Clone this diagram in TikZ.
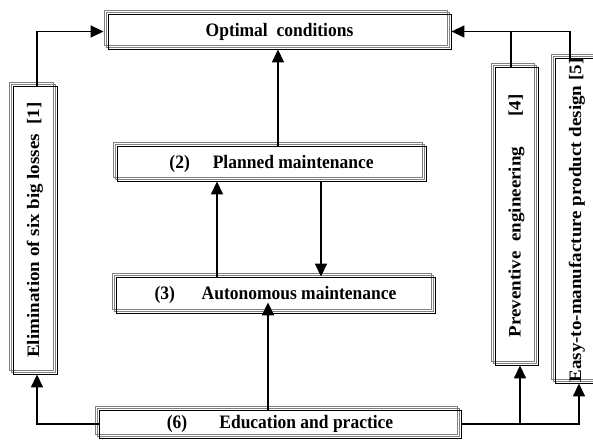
\documentclass[tikz,border=0pt]{standalone}
\usepackage{fontspec}
\setmainfont{Liberation Serif}
\usetikzlibrary{arrows.meta}
\newcommand{\hx}[1]{\scalebox{0.92}[1]{#1}}
\newcommand{\vx}[1]{\rotatebox{90}{\scalebox{1}[0.92]{#1}}}
\tikzset{
  tbox/.style={draw=black, line width=0.9pt, rectangle, inner sep=0pt,
    font=\bfseries\fontsize{19}{22}\selectfont,
    preaction={draw=gray, line width=0.8pt, transform canvas={shift={(-2pt,2pt)}}},
    preaction={draw=gray, line width=0.8pt, transform canvas={shift={(-4pt,4pt)}}}},
  arr/.style={line width=1.6pt, -{Triangle[length=13pt,width=12pt]}},
  ln/.style={line width=1.6pt}
}
\begin{document}
\begin{tikzpicture}[x=1pt,y=-1pt]
\useasboundingbox (0,0) rectangle (593,443);
% boxes
\node[tbox, minimum width=343pt, minimum height=35pt] (O) at (279.5,31.5) {\hx{Optimal\ \ conditions}};
\node[tbox, minimum width=309pt, minimum height=35pt] (P) at (271.5,163.5) {\hx{(2)\hspace{25pt}Planned maintenance}};
\node[tbox, minimum width=319pt, minimum height=36pt] (A) at (275.5,295) {\hx{(3)\hspace{29pt}Autonomous maintenance}};
\node[tbox, minimum width=362pt, minimum height=28pt] (E) at (280,424) {\hx{(6)\hspace{35pt}Education and practice}};
\node[tbox, minimum width=44pt, minimum height=288pt] (L) at (35,230) {\vx{Elimination of six big losses\ \ [1]}};
\node[tbox, minimum width=43pt, minimum height=298pt] (Pv) at (516.5,216) {\vx{Preventive\ \ engineering\hspace{30pt}[4]}};
\node[tbox, minimum width=44pt, minimum height=325pt] (Ez) at (577,220.5) {\vx{Easy-to-manufacture product design [5]}};
% x positions
\coordinate (xl) at (37,0);
\coordinate (xpo) at (278,0);
\coordinate (xap) at (217,0);
\coordinate (xpa) at (321,0);
\coordinate (xea) at (268,0);
\coordinate (xpv) at (520,0);
\coordinate (xez) at (579,0);
\coordinate (xpvt) at (511,0);
\coordinate (xezt) at (570,0);
% connectors
\draw[arr] (L.north -| xl) |- ([xshift=-4pt]O.west);
\draw[arr] (P.north -| xpo) -- (O.south -| xpo);
\draw[arr] (A.north -| xap) -- (P.south -| xap);
\draw[arr] (P.south -| xpa) -- (A.north -| xpa);
\draw[arr] (E.north -| xea) -- ([yshift=11pt]A.south -| xea);
\draw[arr] (E.west) -| (L.south -| xl);
\draw[arr] (E.east) -| (Pv.south -| xpv);
\draw[arr] (E.east) -| (Ez.south -| xez);
\draw[ln] (Pv.north -| xpvt) -- (O.east -| xpvt);
\draw[arr] (Ez.north -| xezt) |- (O.east);
\end{tikzpicture}
\end{document}
